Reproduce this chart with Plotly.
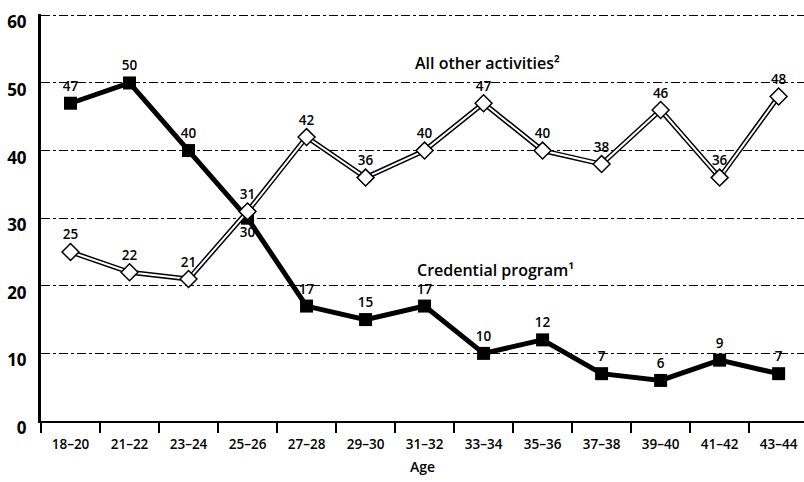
import plotly.graph_objects as go

ages = ['18–20', '21–22', '23–24', '25–26', '27–28', '29–30', '31–32',
        '33–34', '35–36', '37–38', '39–40', '41–42', '43–44']
credential = [47, 50, 40, 30, 17, 15, 17, 10, 12, 7, 6, 9, 7]
other = [25, 22, 21, 31, 42, 36, 40, 47, 40, 38, 46, 36, 48]

font = 'Open Sans'

fig = go.Figure()

# credential program: heavy black line, filled squares
cred_pos = ['top center'] * len(ages)
cred_pos[3] = 'bottom center'
fig.add_trace(go.Scatter(
    x=ages, y=credential, mode='lines+markers+text',
    line=dict(color='black', width=5),
    marker=dict(symbol='square', size=13, color='black'),
    text=[str(v) for v in credential], textposition=cred_pos,
    textfont=dict(family=font, size=13.5, color='black', weight=600),
    cliponaxis=False, showlegend=False))

# all other activities: outlined (double) line, open diamonds
fig.add_trace(go.Scatter(
    x=ages, y=other, mode='lines',
    line=dict(color='black', width=5), showlegend=False))
fig.add_trace(go.Scatter(
    x=ages, y=other, mode='lines+markers+text',
    line=dict(color='white', width=2),
    marker=dict(symbol='diamond', size=13, color='white',
                line=dict(color='black', width=1.5)),
    text=[str(v) for v in other], textposition='top center',
    textfont=dict(family=font, size=13.5, color='black', weight=600),
    cliponaxis=False, showlegend=False))

fig.add_annotation(x=7.06, y=52.9, text='All other activities²', showarrow=False,
                   font=dict(family=font, size=16, color='black', weight=600))
fig.add_annotation(x=7.2, y=22.4, text='Credential program¹', showarrow=False,
                   font=dict(family=font, size=16, color='black', weight=600))

fig.update_xaxes(
    type='category', range=[-0.5, 12.43], automargin=False,
    showline=True, linecolor='black', linewidth=2,
    ticks='outside', tickson='boundaries', ticklen=10, tickwidth=2, tickcolor='black',
    showgrid=False, ticklabelstandoff=10,
    tickfont=dict(family=font, size=13.5, color='black', weight=600),
    title=dict(text='Age', font=dict(family=font, size=14, color='black', weight=600),
               standoff=10))
fig.update_yaxes(
    range=[0, 60.2], tickvals=[0, 10, 20, 30, 40, 50, 60], automargin=False,
    showline=True, linecolor='black', linewidth=3,
    showgrid=True, gridcolor='black', gridwidth=1, griddash='dashdot',
    zeroline=False, ticks='', ticklabelshift=7, ticklabelstandoff=8,
    tickfont=dict(family=font, size=17, color='black', weight=700))

fig.update_layout(
    width=804, height=482,
    margin=dict(l=41, r=0, t=14, b=61, autoexpand=False),
    plot_bgcolor='white', paper_bgcolor='white')

# drop the page's default body margin so the figure sits at the window origin
fig.write_html('out.html', config={'displayModeBar': False},
               post_script="document.body.style.margin='0';")
